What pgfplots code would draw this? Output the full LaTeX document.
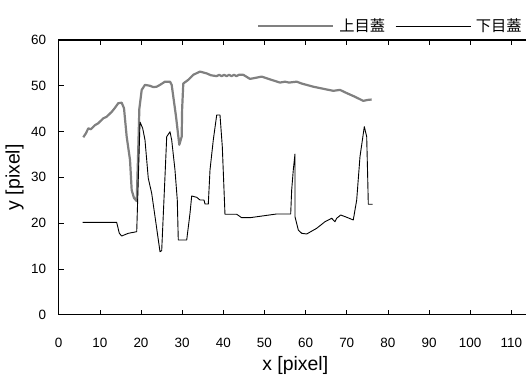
\documentclass[border=0pt]{standalone}
\usepackage{pgfplots}
\pgfplotsset{compat=1.18}
\usepackage{fontspec}
\setmainfont{Liberation Sans}
\newfontfamily\cjk{Noto Sans CJK JP}
\definecolor{upgray}{RGB}{128,128,128}
\begin{document}
\begin{tikzpicture}[x=1bp,y=1bp]
\begin{axis}[
  at={(0bp,0bp)}, anchor=south west,
  scale only axis, width=473.2bp, height=274.7bp,
  xmin=0, xmax=115, ymin=0, ymax=60,
  xtick={0,10,...,110}, ytick={0,10,...,60},
  tick align=inside, major tick length=5bp,
  tick style={black, line width=0.6bp},
  axis line style={black, line width=1.5bp},
  /pgf/number format/assume math mode=true,
  ticklabel style={font=\fontsize{13.5}{16}\selectfont},
  xticklabel style={yshift=-20bp},
  yticklabel style={xshift=-9bp},
  xlabel={x [pixel]}, ylabel={y [pixel]},
  label style={font=\fontsize{19.5}{22}\selectfont},
  xlabel style={at={(axis description cs:0.5,-0.1857)}, anchor=center},
  ylabel style={at={(axis description cs:-0.093,0.5)}, anchor=center, rotate=0},
  legend style={at={(axis description cs:0.4194,1.0509)}, anchor=west, draw=none, fill=none,
    inner sep=0pt, outer sep=0pt, font=\cjk\fontsize{15.3}{18}\selectfont,
    nodes={inner xsep=5bp},
    /tikz/every even column/.append style={column sep=5bp}},
  legend columns=2,
  legend image code/.code={\draw[#1] (0bp,0bp) -- (75bp,0bp);},
  clip=false,
]
\addplot[upgray, line width=2.2bp, line join=round] coordinates {
(5.98,38.75) (6.6,39.6) (7.19,40.7) (7.8,40.5) (8.82,41.4) (9.6,41.8) (10.84,42.9)
(11.6,43.2) (12.88,44.3) (13.6,45.1) (14.48,46.2) (15.31,46.3) (15.87,45.1)
(16.52,38.9) (17.33,33.8) (17.74,27.2) (18.3,25.5) (18.96,24.8) (19.3,35) (19.6,45)
(20.17,49.1) (20.97,50.2) (22.19,50.0) (23.0,49.7) (23.82,49.8) (24.62,50.2)
(25.83,50.9) (27.05,50.9) (27.46,50.2) (28.51,43.3) (29.31,37.1) (29.89,38.9)
(30.0,45) (30.28,50.5) (31.49,51.3) (32.71,52.4) (34.34,53.1) (35.97,52.7)
(37.0,52.3) (38.40,52.1) (39,52.4) (39.6,52.1) (40.2,52.4) (40.8,52.1) (41.4,52.4)
(42,52.1) (42.6,52.4) (43.2,52.1) (43.8,52.4) (44.86,52.4) (46.49,51.5) (49.33,52.0)
(51,51.5) (53.78,50.7) (55,50.9) (56,50.7) (57.84,50.9) (59,50.5) (61.87,49.8)
(64,49.4) (66.73,48.9) (68.36,49.1) (70,48.4) (72,47.6) (74.02,46.7) (75,46.9) (76.06,47.0)
};
\addlegendentry{上目蓋}
\addplot[black, line width=0.9bp, line join=round] coordinates {
(5.83,20.18) (14.09,20.18) (14.73,17.78) (15.31,17.19) (16.91,17.78) (18.96,18.13)
(19.76,42.07) (20.41,40.72) (20.97,38.16) (21.77,29.79) (22.60,26.52) (24.62,13.76)
(25.03,13.98) (25.83,30.14) (26.25,38.88) (27.05,39.97) (27.46,38.16) (28.26,31.61)
(28.82,25.05) (29.06,16.32) (31.11,16.32) (31.91,22.15) (32.32,25.93) (33.54,25.64)
(34.34,25.05) (35.31,25.05) (35.55,24.18) (36.36,24.18) (36.77,31.61) (37.57,38.16)
(38.40,43.62) (39.20,43.62) (39.76,36.70) (40.41,21.93) (43.26,21.93) (44.47,21.19)
(46.49,21.19) (52.98,22.00) (56.38,22.00) (56.62,27.24) (57.01,31.61) (57.42,35.10)
(57.42,21.41) (58.23,18.50) (59.05,17.78) (60.27,17.63) (62.70,18.87) (64.71,20.31)
(66.34,21.06) (67.15,20.31) (67.56,21.06) (68.53,21.78) (69.99,21.28) (71.59,20.69)
(72.42,25.05) (73.22,34.51) (74.27,41.07) (74.85,38.88) (75.09,30.14) (75.24,24.12)
(76.31,24.12)
};
\addlegendentry{下目蓋}
\end{axis}
\pgfresetboundingbox
\path[use as bounding box] (-58.7bp,-63.3bp) rectangle (467.3bp,314.7bp);
\end{tikzpicture}
\end{document}
